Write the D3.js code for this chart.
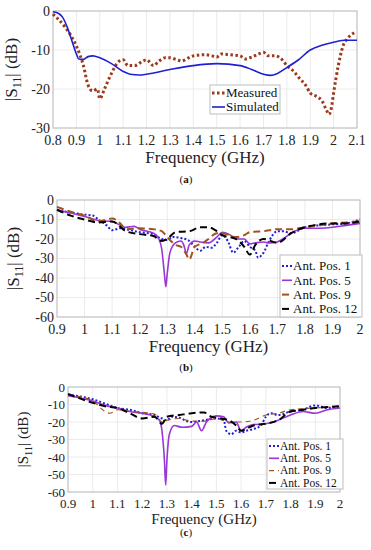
<!DOCTYPE html>
<html>
<head>
<meta charset="utf-8">
<script src="https://cdn.jsdelivr.net/npm/d3@7"></script>
<style>
  body { margin: 0; background: #fff; }
</style>
</head>
<body>
<div id="chart"></div>
<script>
// panel (a) data
const freqA = [0.8,0.85,0.9,0.93,0.95,0.97,0.99,1.0,1.02,1.05,1.08,1.1,1.12,1.15,1.18,1.2,1.23,1.25,1.28,1.3,1.33,1.35,1.38,1.4,1.45,1.48,1.5,1.52,1.55,1.6,1.62,1.65,1.68,1.7,1.72,1.75,1.78,1.8,1.83,1.85,1.88,1.9,1.93,1.95,1.97,1.98,1.99,2.0,2.02,2.04,2.06,2.09];
const measured = [-0.8,-4,-9,-14,-19,-20.5,-20,-22.5,-20,-16,-13,-12.5,-14,-14,-13,-12.5,-14,-13,-12,-12,-12.5,-12.8,-12,-11.5,-11.2,-11.5,-11.8,-11,-11.2,-11.5,-12.3,-11.8,-11,-10.6,-11.5,-11.5,-12.5,-14,-15.5,-17,-19,-21,-22,-23,-25.5,-26.5,-25,-21,-14,-9,-7,-5.5];
const freqSim = [0.8,0.82,0.84,0.86,0.88,0.9,0.91,0.93,0.95,0.97,1.0,1.05,1.1,1.13,1.17,1.2,1.3,1.4,1.5,1.6,1.65,1.7,1.73,1.76,1.8,1.85,1.9,1.95,2.0,2.05,2.1];
const simulated = [-0.2,-0.5,-1.5,-4,-7.5,-11,-12.3,-12.4,-11.7,-11.5,-12,-13.5,-15.5,-16.2,-16.4,-16.2,-15,-14,-13.5,-14,-15,-16.2,-16.5,-16,-14.5,-12.5,-10,-8.8,-8,-7.5,-7.5];
const ticksA = [0.8,0.9,1,1.1,1.2,1.3,1.4,1.5,1.6,1.7,1.8,1.9,2,2.1];

// panel (b) data
const freqB1 = [0.9,0.95,1.0,1.03,1.05,1.08,1.1,1.13,1.15,1.2,1.25,1.28,1.3,1.32,1.35,1.38,1.4,1.42,1.44,1.46,1.48,1.5,1.52,1.54,1.56,1.58,1.6,1.62,1.63,1.65,1.67,1.7,1.72,1.75,1.8,1.85,1.9,1.95,2.0];
const b1 = [-5,-6.5,-7.5,-8,-10,-13,-15.5,-14.5,-15,-16.5,-17.5,-20,-20.5,-19,-19.5,-21,-24,-26,-24,-24.5,-22,-18,-21,-27,-24,-21,-24,-26,-29.5,-27,-21,-16,-16,-17,-14,-13,-12.5,-12,-10];
const freqB5 = [0.9,1.0,1.05,1.1,1.15,1.18,1.2,1.25,1.27,1.28,1.29,1.295,1.3,1.31,1.33,1.35,1.36,1.37,1.38,1.4,1.42,1.45,1.48,1.5,1.53,1.55,1.58,1.6,1.62,1.65,1.67,1.7,1.72,1.75,1.8,1.85,1.9,1.95,2.0];
const b5 = [-5,-8.5,-10.5,-11,-14,-13.5,-15,-17,-20,-25,-38,-44.5,-38,-27,-22,-21,-23,-27.5,-23,-21,-21.5,-22,-19,-16.5,-18,-20,-20,-22.5,-22,-21.5,-22,-21.5,-20,-17,-14.5,-14.5,-14,-13,-12];
const freqB9 = [0.9,0.95,1.0,1.05,1.1,1.13,1.15,1.2,1.25,1.28,1.3,1.33,1.35,1.37,1.38,1.4,1.43,1.45,1.48,1.5,1.55,1.58,1.6,1.65,1.7,1.75,1.8,1.85,1.9,1.95,2.0];
const b9 = [-3.5,-6,-8,-11,-9.5,-12,-15,-14.5,-15,-16,-19,-23,-24,-28,-30.5,-24,-22,-20,-17,-17,-19,-18,-16.5,-16,-15,-15,-14,-13,-12,-11.5,-11];
const freqB12 = [0.9,0.95,1.0,1.05,1.1,1.15,1.2,1.25,1.28,1.3,1.33,1.38,1.42,1.45,1.48,1.5,1.55,1.58,1.6,1.62,1.65,1.7,1.75,1.8,1.9,1.95,2.0];
const b12 = [-5,-8,-10,-11.5,-11,-16,-17.5,-18.5,-21,-20,-16.5,-16,-14,-14,-16,-18,-20,-24,-28,-23,-20,-22,-17,-14,-12,-12,-11];

// panel (c) data
const freqC1 = [0.9,1.0,1.05,1.1,1.15,1.2,1.25,1.28,1.3,1.32,1.35,1.38,1.4,1.45,1.5,1.53,1.54,1.56,1.58,1.6,1.62,1.65,1.68,1.7,1.72,1.75,1.8,1.85,1.9,1.95,2.0];
const c1 = [-4.5,-7,-9.5,-12,-13,-15,-16,-18,-19,-17,-17.5,-19.5,-20,-19,-18,-19,-25,-27,-25,-26,-25,-24,-22,-17,-15,-16,-14,-13,-10.5,-12,-11];
const freqC5 = [0.9,1.0,1.05,1.1,1.15,1.2,1.25,1.27,1.28,1.29,1.295,1.3,1.31,1.33,1.36,1.4,1.42,1.44,1.46,1.5,1.53,1.55,1.58,1.6,1.62,1.65,1.7,1.75,1.8,1.85,1.9,1.95,2.0];
const c5 = [-5,-8,-10.5,-12,-14,-15,-17,-19,-25,-42,-56,-42,-27,-22,-23,-22.5,-20,-25,-20,-16.5,-17,-20.5,-20,-25,-23,-21.5,-21,-19,-16,-14,-15,-13,-12];
const freqC9 = [0.9,1.0,1.05,1.07,1.1,1.15,1.2,1.25,1.28,1.3,1.35,1.4,1.45,1.5,1.55,1.6,1.65,1.7,1.75,1.8,1.9,2.0];
const c9 = [-4.5,-8,-14,-15,-13,-14,-14.5,-15.5,-20,-19,-18,-19.5,-19.5,-18,-20,-20,-19,-16,-15,-13,-12,-11];
const freqC12 = [0.9,1.0,1.05,1.1,1.15,1.2,1.25,1.28,1.3,1.35,1.4,1.45,1.48,1.5,1.55,1.58,1.6,1.62,1.65,1.7,1.75,1.8,1.85,1.9,2.0];
const c12 = [-4,-9,-11,-12,-15,-18,-17,-21,-17,-16,-15,-14.5,-17,-17.5,-19,-22,-25,-24,-22,-21,-19,-14,-13,-12,-11];
const ticksBC = [0.9,1,1.1,1.2,1.3,1.4,1.5,1.6,1.7,1.8,1.9,2];
const posNames = ["Ant. Pos. 1", "Ant. Pos. 5", "Ant. Pos. 9", "Ant. Pos. 12"];

const width = 371, height = 550;
const svg = d3.select("#chart").append("svg")
  .attr("width", width).attr("height", height)
  .attr("font-family", "'Liberation Serif', 'DejaVu Serif', serif");

const zip = (xs, ys) => xs.map((x, i) => ({ x: x, y: ys[i] }));

// draws one panel: axes, grid, lines, legend, labels
function panel(p) {
  const x = d3.scaleLinear().domain(p.xDomain).range([p.left, p.right]);
  const y = d3.scaleLinear().domain([p.yMin, 0]).range([p.bottom, p.top]);
  const yTicks = d3.range(p.yMin, 1, 10);

  const g = svg.append("g");

  // grid
  g.selectAll(".gx").data(p.xTicks).enter().append("line")
    .attr("x1", d => x(d)).attr("x2", d => x(d))
    .attr("y1", p.top).attr("y2", p.bottom)
    .attr("stroke", "#ebebeb");
  g.selectAll(".gy").data(yTicks).enter().append("line")
    .attr("x1", p.left).attr("x2", p.right)
    .attr("y1", d => y(d)).attr("y2", d => y(d))
    .attr("stroke", "#ebebeb");
  g.append("rect")
    .attr("x", p.left).attr("y", p.top)
    .attr("width", p.right - p.left).attr("height", p.bottom - p.top)
    .attr("fill", "none").attr("stroke", "#bdbdbd");

  // tick labels
  g.selectAll(".tx").data(p.xTicks).enter().append("text")
    .attr("x", d => x(d)).attr("y", p.bottom + p.tickFont + 3)
    .attr("text-anchor", "middle").attr("font-size", p.tickFont)
    .attr("fill", "#222").text(d => d3.format("")(d));
  g.selectAll(".ty").data(yTicks).enter().append("text")
    .attr("x", p.left - 3).attr("y", d => y(d) + p.tickFont * 0.35)
    .attr("text-anchor", "end").attr("font-size", p.tickFont)
    .attr("fill", "#222").text(d => d);

  // lines
  const line = d3.line().x(d => x(d.x)).y(d => y(d.y)).curve(d3.curveMonotoneX);
  p.series.forEach(s => {
    g.append("path")
      .attr("d", line(zip(s.xs, s.ys)))
      .attr("fill", "none")
      .attr("stroke", s.color)
      .attr("stroke-width", s.width)
      .attr("stroke-dasharray", s.dash || null);
  });

  // legend
  const lg = p.legend;
  g.append("rect")
    .attr("x", lg.x).attr("y", lg.y).attr("width", lg.w).attr("height", lg.h)
    .attr("fill", "#fff").attr("stroke", "#bdbdbd");
  p.series.forEach((s, i) => {
    const ly = lg.y + lg.pad + i * lg.step;
    g.append("line")
      .attr("x1", lg.x + 2).attr("x2", lg.x + 2 + lg.sample)
      .attr("y1", ly).attr("y2", ly)
      .attr("stroke", s.color).attr("stroke-width", s.width)
      .attr("stroke-dasharray", s.dash || null);
    g.append("text")
      .attr("x", lg.x + 3 + lg.sample).attr("y", ly + lg.font * 0.33)
      .attr("font-size", lg.font).attr("fill", "#111").text(s.name);
  });

  // axis titles
  g.append("text")
    .attr("x", (p.left + p.right) / 2).attr("y", p.bottom + p.tickFont + p.titleFont + 4)
    .attr("text-anchor", "middle").attr("font-size", p.titleFont)
    .attr("fill", "#222").text("Frequency (GHz)");
  const yl = g.append("text")
    .attr("transform", `translate(${p.left - p.yLabelOff},${(p.top + p.bottom) / 2}) rotate(-90)`)
    .attr("text-anchor", "middle").attr("font-size", p.titleFont).attr("fill", "#222");
  yl.append("tspan").text("|S");
  yl.append("tspan").attr("font-size", p.titleFont * 0.7).attr("dy", 4).text("11");
  yl.append("tspan").attr("dy", -4).text("| (dB)");

  g.append("text")
    .attr("x", 186).attr("y", p.tagY)
    .attr("text-anchor", "middle").attr("font-size", 11).attr("fill", "#111")
    .html("(<tspan font-weight='bold'>" + p.tag + "</tspan>)");
}

panel({
  left: 53, right: 357, top: 11, bottom: 128,
  xDomain: [0.8, 2.1], yMin: -30, xTicks: ticksA,
  tickFont: 14, titleFont: 17, yLabelOff: 36, tag: "a", tagY: 183,
  series: [
    { name: "Measured", xs: freqA, ys: measured, color: "#9c3a1c", width: 3, dash: "2.5,2.5" },
    { name: "Simulated", xs: freqSim, ys: simulated, color: "#1f1fd6", width: 1.6 }
  ],
  legend: { x: 210, y: 85, w: 70, h: 29, pad: 8, step: 14, sample: 13, font: 13 }
});

const colsBC = ["#1f1fd6", "#9a35d6", "#a0531e", "#000"];
panel({
  left: 57, right: 360, top: 200, bottom: 317,
  xDomain: [0.9, 2], yMin: -60, xTicks: ticksBC,
  tickFont: 14, titleFont: 17, yLabelOff: 38, tag: "b", tagY: 371,
  series: [
    { name: posNames[0], xs: freqB1, ys: b1, color: colsBC[0], width: 2, dash: "2,2" },
    { name: posNames[1], xs: freqB5, ys: b5, color: colsBC[1], width: 1.6 },
    { name: posNames[2], xs: freqB9, ys: b9, color: colsBC[2], width: 2, dash: "7,4" },
    { name: posNames[3], xs: freqB12, ys: b12, color: colsBC[3], width: 2, dash: "7,4" }
  ],
  legend: { x: 280, y: 255, w: 82, h: 62, pad: 11, step: 14.3, sample: 10, font: 13 }
});

panel({
  left: 68, right: 340, top: 387, bottom: 492,
  xDomain: [0.9, 2], yMin: -60, xTicks: ticksBC,
  tickFont: 13, titleFont: 15, yLabelOff: 40, tag: "c", tagY: 536,
  series: [
    { name: posNames[0], xs: freqC1, ys: c1, color: colsBC[0], width: 2, dash: "2,2" },
    { name: posNames[1], xs: freqC5, ys: c5, color: colsBC[1], width: 1.6 },
    { name: posNames[2], xs: freqC9, ys: c9, color: colsBC[2], width: 1.2, dash: "5,4" },
    { name: posNames[3], xs: freqC12, ys: c12, color: colsBC[3], width: 2, dash: "7,4" }
  ],
  legend: { x: 267, y: 439, w: 76, h: 50, pad: 7, step: 12.3, sample: 10, font: 11.5 }
});
</script>
</body>
</html>
